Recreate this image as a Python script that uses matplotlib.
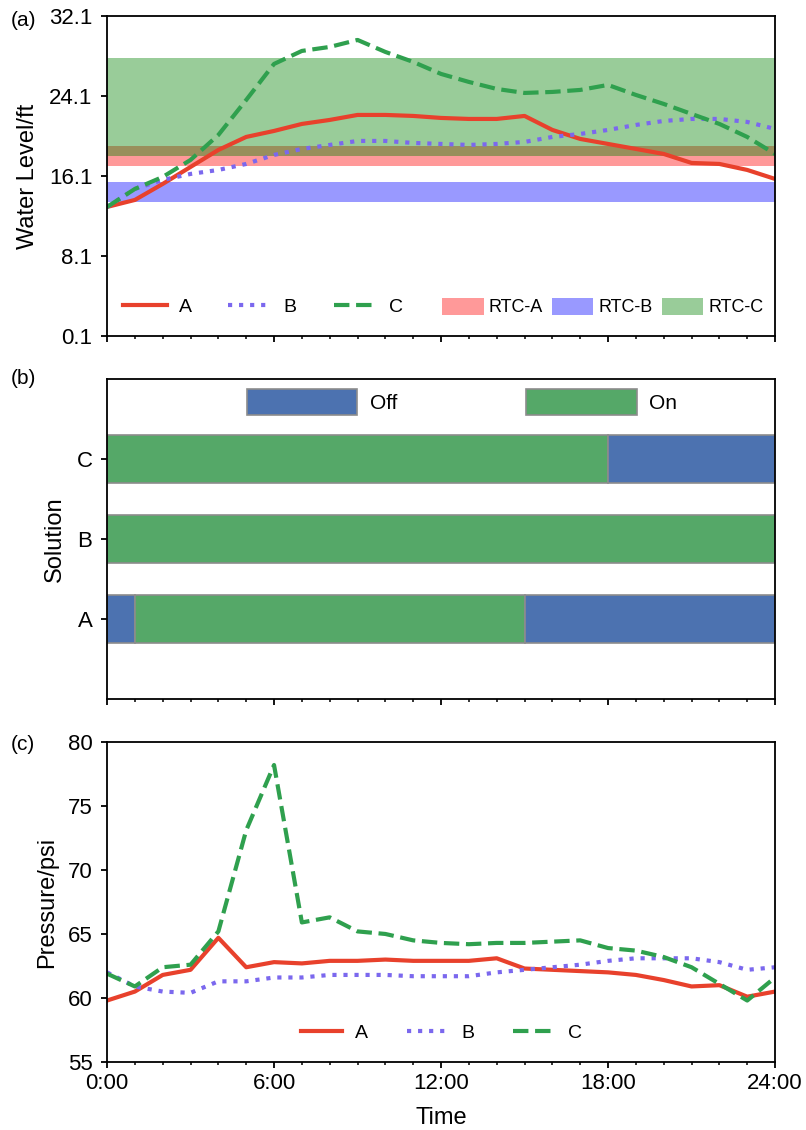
import matplotlib
matplotlib.use('Agg')
import matplotlib.pyplot as plt

plt.rcParams.update({
    'font.family': ['Liberation Sans', 'DejaVu Sans'],
    'font.size': 16,
    'axes.linewidth': 1.3,
    'xtick.major.width': 1.3,
    'ytick.major.width': 1.3,
    'xtick.minor.width': 1.1,
    'xtick.major.size': 4.5,
    'ytick.major.size': 4.5,
    'xtick.minor.size': 2.5,
    'xtick.direction': 'out',
    'ytick.direction': 'out',
})

hours = list(range(25))
hour_ticks = [0, 6, 12, 18, 24]
hour_labels = ['0:00', '6:00', '12:00', '18:00', '24:00']

# (a) water level, ft
level_a = [13.0, 13.7, 15.3, 17.0, 18.7, 20.0, 20.6, 21.3, 21.7, 22.2, 22.2, 22.1, 21.9,
           21.8, 21.8, 22.1, 20.7, 19.8, 19.3, 18.8, 18.3, 17.4, 17.3, 16.7, 15.8]
level_b = [13.0, 14.8, 15.7, 16.3, 16.7, 17.3, 18.2, 18.8, 19.2, 19.6, 19.6, 19.4, 19.3,
           19.2, 19.3, 19.5, 20.0, 20.3, 20.7, 21.2, 21.6, 21.8, 21.8, 21.5, 20.8]
level_c = [13.0, 14.8, 16.0, 17.7, 20.2, 23.7, 27.3, 28.6, 29.0, 29.7, 28.5, 27.5, 26.3,
           25.5, 24.8, 24.4, 24.5, 24.7, 25.2, 24.2, 23.3, 22.3, 21.3, 20.0, 18.3]
rtc_a = (17.1, 19.1)
rtc_b = (13.5, 15.5)
rtc_c = (18.1, 27.9)
level_ticks = [0.1, 8.1, 16.1, 24.1, 32.1]

# (b) pump status: (start hour, duration, state)
solutions = ['A', 'B', 'C']
sched_a = [(0, 1, 'Off'), (1, 14, 'On'), (15, 9, 'Off')]
sched_b = [(0, 24, 'On')]
sched_c = [(0, 18, 'On'), (18, 6, 'Off')]

# (c) pressure, psi
press_a = [59.8, 60.5, 61.8, 62.2, 64.7, 62.4, 62.8, 62.7, 62.9, 62.9, 63.0, 62.9, 62.9,
           62.9, 63.1, 62.3, 62.2, 62.1, 62.0, 61.8, 61.4, 60.9, 61.0, 60.1, 60.5]
press_b = [62.0, 60.9, 60.5, 60.4, 61.3, 61.3, 61.6, 61.6, 61.8, 61.8, 61.8, 61.7, 61.7,
           61.7, 62.0, 62.2, 62.4, 62.6, 62.9, 63.1, 63.1, 63.1, 62.8, 62.2, 62.4]
press_c = [61.9, 60.9, 62.4, 62.6, 65.2, 73.1, 78.2, 65.9, 66.3, 65.2, 65.0, 64.5, 64.3,
           64.2, 64.3, 64.3, 64.4, 64.5, 63.9, 63.7, 63.2, 62.4, 61.1, 59.8, 61.6]

col_a = '#E8412C'
col_b = '#7B68EE'
col_c = '#2FA04E'
state_colors = {'Off': '#4C72B0', 'On': '#55A868'}

fig = plt.figure(figsize=(8.06, 11.30), dpi=100)
L, W, H = 0.1328, 0.8288, 0.2832
ax1 = fig.add_axes([L, 0.7027, W, H])
ax2 = fig.add_axes([L, 0.3814, W, H])
ax3 = fig.add_axes([L, 0.0602, W, H])

for ax in (ax1, ax2, ax3):
    ax.set_xlim(0, 24)
    ax.set_xticks(hour_ticks)
    ax.set_xticks(hours, minor=True)
    ax.tick_params(axis='y', pad=6)

# ---- (a)
ax1.axhspan(*rtc_a, color='red', alpha=0.4, lw=0, label='RTC-A')
ax1.axhspan(*rtc_b, color='blue', alpha=0.4, lw=0, label='RTC-B')
ax1.axhspan(*rtc_c, color='green', alpha=0.4, lw=0, label='RTC-C')
la, = ax1.plot(hours, level_a, color=col_a, lw=3, label='A')
lb, = ax1.plot(hours, level_b, color=col_b, lw=3, ls=':', label='B')
lc, = ax1.plot(hours, level_c, color=col_c, lw=3, ls='--', label='C')
ax1.set_ylim(0.1, 32.1)
ax1.set_yticks(level_ticks)
ax1.set_yticklabels([f'{v:.1f}' for v in level_ticks])
ax1.set_xticklabels([])
ax1.set_ylabel('Water Level/ft', fontsize=17, va='center')
ax1.yaxis.set_label_coords(-0.118, 0.5)

handles, labels = ax1.get_legend_handles_labels()
leg1 = ax1.legend([la, lb, lc], ['A', 'B', 'C'], loc='center left',
                  bbox_to_anchor=(0.024, 0.09), ncol=3, frameon=False, fontsize=14,
                  handlelength=2.25, handletextpad=0.6, columnspacing=1.9,
                  borderpad=0, borderaxespad=0)
ax1.add_artist(leg1)
ax1.legend(handles[:3], labels[:3], loc='center left', bbox_to_anchor=(0.502, 0.09),
           ncol=3, frameon=False, fontsize=13, handlelength=2.28, handleheight=1.05,
           handletextpad=0.3, columnspacing=0.5, borderpad=0, borderaxespad=0)

# ---- (b)
seen = set()
for ypos, sched in zip([1, 2, 3], [sched_a, sched_b, sched_c]):
    for start, dur, state in sched:
        lab = state if state not in seen else None
        seen.add(state)
        ax2.barh(ypos, dur, left=start, height=0.6, color=state_colors[state],
                 edgecolor='#8c8c8c', linewidth=1.2, label=lab)
ax2.set_ylim(0, 4)
ax2.set_yticks([1, 2, 3])
ax2.set_yticklabels(solutions)
ax2.set_xticklabels([])
ax2.set_ylabel('Solution', fontsize=17, va='center')
ax2.yaxis.set_label_coords(-0.078, 0.5)
h2, l2 = ax2.get_legend_handles_labels()
order = [l2.index('Off'), l2.index('On')]
ax2.legend([h2[i] for i in order], [l2[i] for i in order], loc='center left',
           bbox_to_anchor=(0.209, 0.928), ncol=2, frameon=False, fontsize=15,
           handlelength=5.3, handleheight=1.55, handletextpad=0.6, columnspacing=6.2,
           borderpad=0, borderaxespad=0)

# ---- (c)
ax3.plot(hours, press_a, color=col_a, lw=3, label='A')
ax3.plot(hours, press_b, color=col_b, lw=3, ls=':', label='B')
ax3.plot(hours, press_c, color=col_c, lw=3, ls='--', label='C')
ax3.set_ylim(55, 80)
ax3.set_yticks([55, 60, 65, 70, 75, 80])
ax3.set_xticklabels(hour_labels)
ax3.set_ylabel('Pressure/psi', fontsize=17, va='center')
ax3.yaxis.set_label_coords(-0.089, 0.5)
ax3.set_xlabel('Time', fontsize=17)
ax3.xaxis.set_label_coords(0.5, -0.14)
ax3.legend(loc='center left', bbox_to_anchor=(0.29, 0.09), ncol=3, frameon=False,
           fontsize=14, handlelength=2.1, handletextpad=0.7, columnspacing=2.0,
           borderpad=0, borderaxespad=0)

for txt, yy in [('(a)', 20), ('(b)', 378), ('(c)', 745)]:
    fig.text(23 / 806, 1 - yy / 1130, txt, ha='center', va='center', fontsize=15)

fig.savefig('out.png', dpi=100)
